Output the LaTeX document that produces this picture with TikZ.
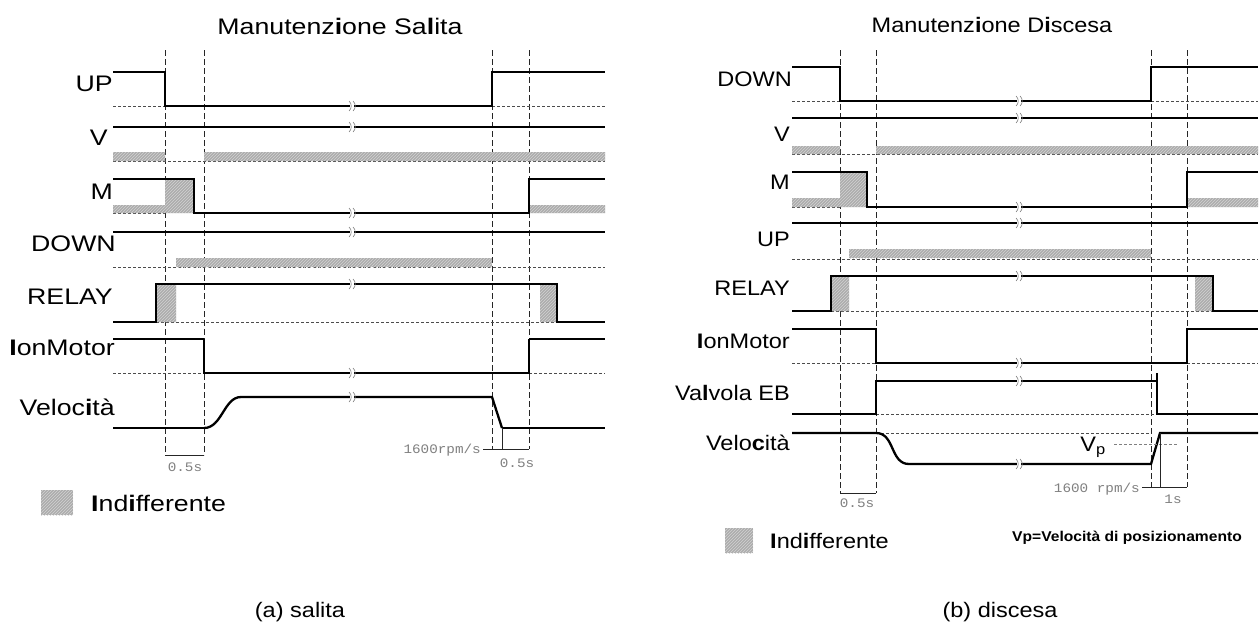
\documentclass[tikz,border=0pt]{standalone}
\usepackage{fontspec}
\setmainfont{Liberation Sans}
\setmonofont{Liberation Mono}
\usetikzlibrary{patterns,positioning}
\tikzset{
    signal/.style={line width=2.3pt},
    thin signal/.style={line width=1.3pt},
    level line/.style={dash pattern=on 3pt off 2pt,line width=0.8pt,gray!60!black},
    time mark/.style={dash pattern=on 6pt off 3pt,line width=0.9pt,gray!30!black},
    dim line/.style={line width=1pt,gray!30!black},
    hatch/.style={fill=gray!65,postaction={pattern=north east lines,pattern color=gray!35}},
    sig label/.style={anchor=east,inner sep=0pt,xscale=1.12,
        font=\fontsize{21}{24}\selectfont},
    big label/.style={sig label,xscale=1.06,font=\fontsize{22.5}{26}\selectfont},
    title label/.style={inner sep=0pt,xscale=1.12,font=\fontsize{21}{24}\selectfont},
    dim label/.style={inner sep=0pt,text=gray,xscale=1.1,font=\ttfamily\fontsize{13}{15}\selectfont}
}
% break mark on a long signal line
\newcommand{\brk}[2]{%
    \fill[white] ({#1-2},{#2-3}) rectangle ({#1+2},{#2+3});
    \draw[gray,line width=0.6pt] ({#1-3},{#2-5}) to[bend left=50] ({#1-3},{#2+5})
        ({#1+1},{#2-5}) to[bend left=50] ({#1+1},{#2+5});
}
\begin{document}
\begin{tikzpicture}[x=1pt,y=-1pt]
\fill[white] (0,0) rectangle (1260,632);
\useasboundingbox (0,0) rectangle (1260,632);

%%% (a) salita
\node[title label,xscale=1.06,font=\fontsize{22.5}{26}\selectfont] (title_a) at (340,26)
    {Manutenz\textbf{i}one Sa\textbf{l}ita};
\foreach \t in {165,204}
    \draw[time mark] (\t,50) -- (\t,455);
\foreach \t in {492,529}
    \draw[time mark] (\t,50) -- (\t,449);
% UP
\node[big label] (up_a) at (113,84) {UP};
\draw[level line] (113,106) -- (165,106) (492,106) -- (605,106);
\draw[signal] (113,72) -- (165,72) -- (165,106) -- (492,106) -- (492,72) -- (605,72);
% V
\node[big label] (v_a) at (108,138) {V};
\draw[level line] (113,161) -- (605,161);
\fill[hatch] (113,152) rectangle (165,161) (204,152) rectangle (605,161);
\draw[signal] (113,127) -- (605,127);
% M
\node[big label] (m_a) at (113,192) {M};
\draw[level line] (113,213) -- (165,213);
\fill[hatch] (113,205) rectangle (165,213) (165,179) rectangle (194,213) (529,205) rectangle (605,213);
\draw[signal] (113,179) -- (194,179) -- (194,213) -- (529,213) -- (529,179) -- (605,179);
% DOWN
\node[big label] (down_a) at (116,244) {DOWN};
\draw[level line] (113,267) -- (605,267);
\fill[hatch] (176,258) rectangle (492,267);
\draw[signal] (113,232) -- (605,232);
% RELAY
\node[big label] (relay_a) at (113,297) {RELAY};
\draw[level line] (156,322) -- (557,322);
\fill[hatch] (156,284) rectangle (176,322) (540,284) rectangle (557,322);
\draw[signal] (113,322) -- (156,322) -- (156,284) -- (557,284) -- (557,322) -- (605,322);
% IonMotor
\node[big label] (ion_a) at (115,348) {\textbf{I}onMotor};
\draw[level line] (113,373) -- (204,373) (529,373) -- (605,373);
\draw[thin signal] (113,339) -- (204,339) (529,339) -- (605,339);
\draw[signal] (204,339) -- (204,373) -- (529,373) -- (529,339);
% Velocita
\node[big label] (vel_a) at (115,407) {Veloc\textbf{i}tà};
\draw[thin signal] (113,428) -- (204,428) (502,428) -- (605,428);
\draw[signal] (204,428) .. controls (222,428) and (224,397) .. (241,397) -- (492,397) -- (502,428);
\foreach \y in {106,127,213,232,284,373,397}
    \brk{352}{\y}
% dimensions
\draw[dim line] (165,455) -- (204,455);
\node[dim label] (t05_a) at (185,467) {0.5s};
\draw[dim line] (502,428) -- (502,449) (483,449) -- (529,449);
\node[dim label,anchor=east] (acc_a) at (481,450) {1600rpm/s};
\node[dim label] (t05b_a) at (517,463) {0.5s};
% legend
\fill[hatch] (41,490) rectangle (73,515);
\node[big label,anchor=west] (ind_a) at (91,503) {\textbf{I}nd\textbf{i}fferente};
\node[title label] (cap_a) at (300,612) {(a) salita};

%%% (b) discesa
\node[title label] (title_b) at (992,25) {Manutenz\textbf{i}one D\textbf{i}scesa};
\foreach \t in {840,876}
    \draw[time mark] (\t,50) -- (\t,493);
\foreach \t in {1151,1187}
    \draw[time mark] (\t,50) -- (\t,487);
% DOWN
\node[sig label] (down_b) at (792,79) {DOWN};
\draw[level line] (792,101) -- (840,101) (1151,101) -- (1258,101);
\draw[signal] (792,67) -- (840,67) -- (840,101) -- (1151,101) -- (1151,67) -- (1258,67);
% V
\node[sig label] (v_b) at (790,134) {V};
\draw[level line] (792,154) -- (1258,154);
\fill[hatch] (792,146) rectangle (840,154) (876,146) rectangle (1258,154);
\draw[signal] (792,118) -- (1258,118);
% M
\node[sig label] (m_b) at (790,182) {M};
\draw[level line] (792,207) -- (840,207);
\fill[hatch] (792,198) rectangle (840,207) (840,172) rectangle (867,207) (1187,198) rectangle (1258,207);
\draw[signal] (792,172) -- (867,172) -- (867,207) -- (1187,207) -- (1187,172) -- (1258,172);
% UP
\node[sig label] (up_b) at (790,239) {UP};
\draw[level line] (792,259) -- (1258,259);
\fill[hatch] (849,249) rectangle (1151,258);
\draw[signal] (792,223) -- (1258,223);
% RELAY
\node[sig label] (relay_b) at (790,288) {RELAY};
\draw[level line] (831,311) -- (1213,311);
\fill[hatch] (831,276) rectangle (849,311) (1195,276) rectangle (1213,311);
\draw[signal] (792,311) -- (831,311) -- (831,276) -- (1213,276) -- (1213,311) -- (1258,311);
% IonMotor
\node[sig label] (ion_b) at (790,341) {\textbf{I}onMotor};
\draw[level line] (792,363) -- (876,363) (1187,363) -- (1258,363);
\draw[signal] (792,329) -- (876,329) -- (876,363) -- (1187,363) -- (1187,329) -- (1258,329);
% Valvola EB
\node[sig label] (valve_b) at (790,393) {Va\textbf{l}vola EB};
\draw[level line] (876,414) -- (1157,414);
\draw[signal] (792,414) -- (876,414) -- (876,381) -- (1157,381);
\draw[signal] (1157,373) -- (1157,414) -- (1258,414);
% Velocita
\node[sig label] (vel_b) at (790,443) {Velo\textbf{c}ità};
\draw[level line] (876,433) -- (1151,433);
\draw[signal] (792,433) -- (876,433) .. controls (895,433) and (890,464) .. (909,464)
    -- (1151,464) -- (1160,433) -- (1258,433);
\draw[level line,gray] (1114,444) -- (1177,444);
\node[sig label,anchor=center] (vp_b) at (1093,447) {V\textsubscript{p}};
\foreach \y in {101,118,207,223,276,363,381,464}
    \brk{1019}{\y}
% dimensions
\draw[dim line] (840,493) -- (876,493);
\node[dim label] (t05_b) at (857,503) {0.5s};
\draw[dim line] (1160,433) -- (1160,487) (1142,487) -- (1187,487);
\node[dim label,anchor=east] (acc_b) at (1140,489) {1600 rpm/s};
\node[dim label] (t1_b) at (1173,499) {1s};
% legend
\fill[hatch] (725,528) rectangle (753,553);
\node[sig label,anchor=west] (ind_b) at (770,541) {\textbf{I}nd\textbf{i}fferente};
\node[inner sep=0pt,xscale=1.1,font=\bfseries\fontsize{14.2}{16}\selectfont] (vpdef_b)
    at (1127,538) {Vp=Velocità di posizionamento};
\node[title label] (cap_b) at (1000,612) {(b) discesa};
\end{tikzpicture}
\end{document}
